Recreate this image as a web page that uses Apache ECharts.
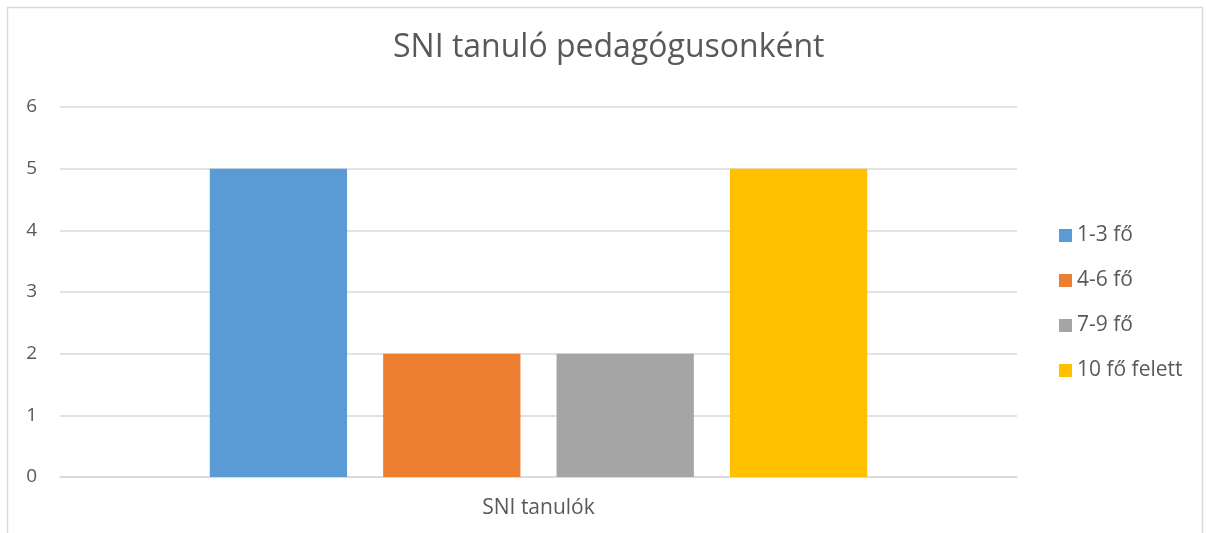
<!DOCTYPE html>
<html>
<head>
<meta charset="utf-8">
<script src="https://cdn.jsdelivr.net/npm/echarts@6/dist/echarts.min.js"></script>
<style>
  html, body { margin: 0; padding: 0; background: #fff; }
  #chart { width: 1206px; height: 533px; }
</style>
</head>
<body>
<div id="chart"></div>
<script>
// adatok
const categories = ['SNI tanulók']
const seriesNames = ['1-3 fő', '4-6 fő', '7-9 fő', '10 fő felett']
const seriesValues = [[5], [2], [2], [5]]
const seriesColors = ['#5b9bd5', '#ed7d31', '#a5a5a5', '#ffc000']
const yTicks = [0, 1, 2, 3, 4, 5, 6]

const font = 'Open Sans'
const chart = echarts.init(document.getElementById('chart'))

let series = []
for (let i = 0; i < seriesNames.length; i++) {
  series.push({
    name: seriesNames[i],
    type: 'bar',
    data: seriesValues[i],
    itemStyle: { color: seriesColors[i] },
    barGap: '26.3%',
    barCategoryGap: '31.3%'
  })
}

let option = {
  animation: false,
  textStyle: { fontFamily: font },
  title: {
    text: 'SNI tanuló pedagógusonként',
    left: 388,
    top: 27,
    textStyle: { fontFamily: font, fontSize: 32, fontWeight: 'normal', color: '#595959' }
  },
  graphic: [{
    type: 'rect',
    silent: true,
    shape: { x: 7.5, y: 7.5, width: 1195, height: 600 },
    style: { fill: 'none', stroke: '#d9d9d9', lineWidth: 1.5 }
  }],
  legend: {
    orient: 'vertical',
    left: 1054,
    top: 220,
    itemWidth: 13,
    itemHeight: 13,
    itemGap: 24,
    icon: 'rect',
    data: seriesNames,
    textStyle: { fontFamily: font, fontSize: 21, color: '#595959' }
  },
  grid: { left: 60, right: 189, top: 107, bottom: 56 },
  xAxis: {
    type: 'category',
    data: categories,
    axisLine: { lineStyle: { color: '#d9d9d9', width: 1.5 } },
    axisTick: { show: false },
    axisLabel: { fontFamily: font, fontSize: 21, color: '#595959', margin: 21 }
  },
  yAxis: {
    type: 'value',
    min: yTicks[0],
    max: yTicks[yTicks.length - 1],
    interval: 1,
    axisLine: { show: false },
    axisTick: { show: false },
    splitLine: { lineStyle: { color: '#d9d9d9', width: 1.5 } },
    axisLabel: { fontFamily: font, fontSize: 19, color: '#595959', margin: 23 }
  },
  series: series
}
chart.setOption(option)
</script>
</body>
</html>
